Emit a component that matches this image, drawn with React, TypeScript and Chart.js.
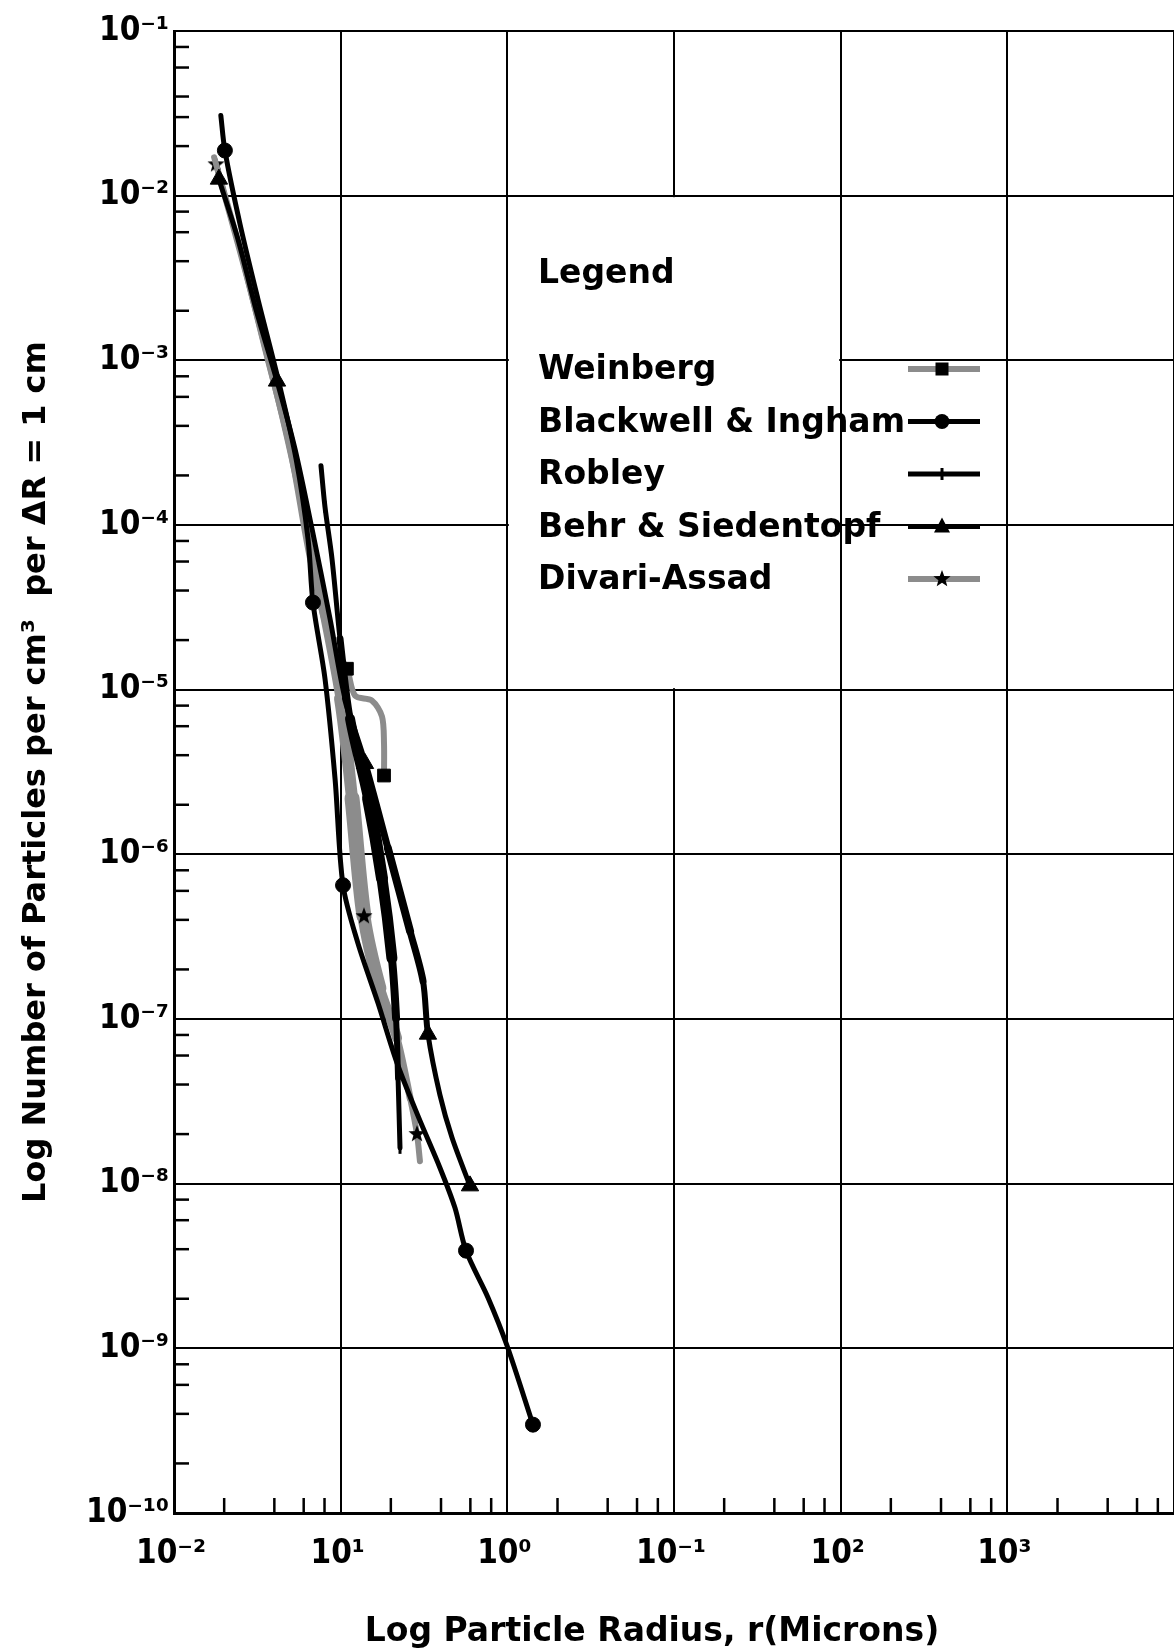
import { useEffect, useRef } from 'react';
import { Chart, registerables } from 'chart.js';

Chart.register(...registerables);

const FONT = '"DejaVu Sans", "Liberation Sans", sans-serif';
const TICK_FONT = '"DejaVu Sans Condensed", "Liberation Sans Narrow", "DejaVu Sans", sans-serif';
const INK = '#000000';
const GREY = '#8c8c8c';

// ---- axes ----
const xTickValues = [1e-2, 1e-1, 1e0, 1e1, 1e2, 1e3, 1e4];
const xTickLabels = ['10⁻²', '10¹', '10⁰', '10⁻¹', '10²', '10³', ''];
const yTickValues = [1e-10, 1e-9, 1e-8, 1e-7, 1e-6, 1e-5, 1e-4, 1e-3, 1e-2, 1e-1];
const yTickLabels = ['10⁻¹⁰', '10⁻⁹', '10⁻⁸', '10⁻⁷', '10⁻⁶', '10⁻⁵', '10⁻⁴', '10⁻³', '10⁻²', '10⁻¹'];
const minorSteps = [2, 4, 6, 8];
const yExtraMinor = [3e-2];

const xTitle = 'Log Particle Radius, r(Microns)';
const yTitle = 'Log Number of Particles per cm³  per ΔR = 1 cm';
const legendTitle = 'Legend';
const seriesNames = ['Weinberg', 'Blackwell & Ingham', 'Robley', 'Behr & Siedentopf', 'Divari-Assad'];

// ---- series (radius in microns, particles per cm^3) ----
const weinbergRadius = [0.0174, 0.0249, 0.0352, 0.0497, 0.0655, 0.0863, 0.109, 0.122, 0.154, 0.177, 0.182, 0.182];
const weinbergCount = [1.71e-2, 4.73e-3, 1.17e-3, 2.9e-4, 6.24e-5, 2.04e-5, 1.34e-5, 9.2e-6, 8.59e-6, 6.87e-6, 4.71e-6, 3.01e-6];
const weinbergMarks = [6, 11];

const blackwellRadius = [0.0191, 0.0202, 0.0249, 0.0319, 0.0421, 0.054, 0.0637, 0.0682, 0.0805, 0.0925, 0.1033, 0.127, 0.1675, 0.218, 0.291, 0.394, 0.485, 0.565, 0.766, 0.995, 1.425];
const blackwellCount = [3.07e-2, 1.88e-2, 6.71e-3, 2.35e-3, 7.71e-4, 2.52e-4, 8.24e-5, 3.38e-5, 1.17e-5, 2.89e-6, 6.49e-7, 2.88e-7, 1.25e-7, 5.4e-8, 2.58e-8, 1.25e-8, 7.13e-9, 3.92e-9, 2.03e-9, 1.04e-9, 3.44e-10];
const blackwellMarks = [1, 7, 10, 17, 20];

const robleyRadius = [0.0762, 0.0805, 0.0887, 0.0991, 0.1138, 0.146, 0.177, 0.203, 0.215, 0.221, 0.227];
const robleyCount = [2.29e-4, 1.29e-4, 6.24e-5, 2.04e-5, 6.68e-6, 2.19e-6, 7.15e-7, 2.34e-7, 1.01e-7, 4.38e-8, 1.65e-8];
const robleyMarks = [1, 4, 10];

const behrRadius = [0.0186, 0.0242, 0.031, 0.0415, 0.0532, 0.0673, 0.0863, 0.1062, 0.14, 0.192, 0.261, 0.312, 0.334, 0.394, 0.466, 0.597];
const behrCount = [1.26e-2, 5.44e-3, 2.05e-3, 7.48e-4, 2.9e-4, 9.48e-5, 2.7e-5, 8.83e-6, 3.56e-6, 1.09e-6, 3.41e-7, 1.7e-7, 8.09e-8, 3.46e-8, 1.9e-8, 9.7e-9];
const behrMarks = [0, 3, 8, 12, 15];

const divariRadius = [0.01786, 0.0286, 0.0464, 0.0702, 0.0991, 0.117, 0.138, 0.172, 0.218, 0.261, 0.287, 0.299];
const divariCount = [1.55e-2, 2.71e-3, 3.83e-4, 5.42e-5, 8.83e-6, 2.19e-6, 4.21e-7, 1.54e-7, 7.66e-8, 3.31e-8, 2.0e-8, 1.37e-8];
const divariMarks = [0, 6, 10];

// stroke-weight profile per segment (style only: thick smeared middle of the band)
const robleyStroke = [5, 5, 5, 7, 10, 12, 11, 8, 6, 5];
const behrStroke = [5, 5, 5, 5, 5, 5, 5, 6, 7, 8, 7, 6, 5, 5, 5];
const divariStroke = [6, 6, 6, 9, 12, 15, 13, 10, 7, 6, 6];

function makeStar(size: number): HTMLCanvasElement {
  const c = document.createElement('canvas');
  c.width = size;
  c.height = size;
  const g = c.getContext('2d')!;
  g.fillStyle = INK;
  g.beginPath();
  const cx = size / 2;
  const cy = size / 2;
  const R = size / 2 - 1;
  const r = R * 0.42;
  for (let k = 0; k < 10; k++) {
    const a = -Math.PI / 2 + (k * Math.PI) / 5;
    const rr = k % 2 === 0 ? R : r;
    const px = cx + Math.cos(a) * rr;
    const py = cy + Math.sin(a) * rr;
    if (k === 0) g.moveTo(px, py);
    else g.lineTo(px, py);
  }
  g.closePath();
  g.fill();
  return c;
}

function drawMarker(ctx: CanvasRenderingContext2D, kind: string, x: number, y: number, star: HTMLCanvasElement) {
  ctx.save();
  ctx.fillStyle = INK;
  ctx.strokeStyle = INK;
  if (kind === 'rect') {
    ctx.fillRect(x - 6.5, y - 6.5, 13, 13);
  } else if (kind === 'circle') {
    ctx.beginPath();
    ctx.arc(x, y, 7.5, 0, Math.PI * 2);
    ctx.fill();
  } else if (kind === 'line') {
    ctx.lineWidth = 3;
    ctx.beginPath();
    ctx.moveTo(x, y - 6);
    ctx.lineTo(x, y + 6);
    ctx.stroke();
  } else if (kind === 'triangle') {
    ctx.beginPath();
    ctx.moveTo(x, y - 9);
    ctx.lineTo(x + 8, y + 6);
    ctx.lineTo(x - 8, y + 6);
    ctx.closePath();
    ctx.fill();
  } else if (kind === 'star') {
    ctx.drawImage(star, x - star.width / 2, y - star.height / 2);
  }
  ctx.restore();
}

export default function App() {
  const ref = useRef<HTMLCanvasElement>(null);

  useEffect(() => {
    document.body.style.margin = '0';
    const canvas = ref.current!;
    const star = makeStar(20);

    const markerKinds = ['rect', 'circle', 'line', 'triangle', 'star'];

    const mk = (
      label: string,
      rs: number[],
      ns: number[],
      marks: number[],
      color: string,
      width: number,
      style: any,
      radius: number,
      order: number,
      stroke: number[] | null = null,
      extra: any = {}
    ) => ({
      label,
      data: rs.map((r, i) => ({ x: r, y: ns[i] })),
      showLine: true,
      borderColor: color,
      borderWidth: width,
      borderCapStyle: 'round',
      borderJoinStyle: 'round',
      tension: 0.3,
      segment: stroke
        ? {
            borderWidth: (c: any) => stroke[c.p0DataIndex] ?? width,
            borderCapStyle: 'round',
          }
        : undefined,
      pointStyle: style,
      pointRadius: (c: any) => (marks.includes(c.dataIndex) ? radius : 0),
      pointHoverRadius: 0,
      pointBackgroundColor: INK,
      pointBorderColor: INK,
      pointBorderWidth: 1,
      order,
      ...extra,
    });

    const datasets = [
      mk(seriesNames[0], weinbergRadius, weinbergCount, weinbergMarks, GREY, 6, 'rect', 9, 1),
      mk(seriesNames[1], blackwellRadius, blackwellCount, blackwellMarks, INK, 5, 'circle', 7.5, 0),
      mk(seriesNames[2], robleyRadius, robleyCount, robleyMarks, INK, 5, 'line', 6, 0, robleyStroke, {
        pointRotation: 90,
        pointBorderWidth: 3,
      }),
      mk(seriesNames[3], behrRadius, behrCount, behrMarks, INK, 5, 'triangle', 10, 0, behrStroke),
      mk(seriesNames[4], divariRadius, divariCount, divariMarks, GREY, 6, star, 8, 1, divariStroke),
    ];

    const decorations = {
      id: 'decorations',
      beforeDatasetsDraw(chart: any) {
        const { ctx, chartArea, scales } = chart;
        const xs = scales.x;
        const ys = scales.y;
        ctx.save();
        // legend panel (covers grid cell block)
        const lx0 = xs.getPixelForValue(1e0) + 1.5;
        const lx1 = xs.getPixelForValue(1e2) - 1.5;
        const ly0 = ys.getPixelForValue(1e-2) + 1.5;
        const ly1 = ys.getPixelForValue(1e-5) - 1.5;
        ctx.fillStyle = '#ffffff';
        ctx.fillRect(lx0, ly0, lx1 - lx0, ly1 - ly0);
        // minor ticks
        ctx.strokeStyle = INK;
        ctx.lineWidth = 2.5;
        const yMinor: number[] = [...yExtraMinor];
        for (let e = -10; e < -1; e++) for (const m of minorSteps) yMinor.push(m * Math.pow(10, e));
        for (const v of yMinor) {
          const py = ys.getPixelForValue(v);
          ctx.beginPath();
          ctx.moveTo(chartArea.left, py);
          ctx.lineTo(chartArea.left + 15, py);
          ctx.stroke();
        }
        for (let e = -2; e < 4; e++) {
          for (const m of minorSteps) {
            const px = xs.getPixelForValue(m * Math.pow(10, e));
            ctx.beginPath();
            ctx.moveTo(px, chartArea.bottom);
            ctx.lineTo(px, chartArea.bottom - 15);
            ctx.stroke();
          }
        }
        ctx.restore();
      },
      afterDraw(chart: any) {
        const { ctx } = chart;
        ctx.save();
        ctx.font = `bold 33px ${FONT}`;
        ctx.fillStyle = INK;
        ctx.textAlign = 'left';
        ctx.textBaseline = 'alphabetic';
        ctx.fillText(legendTitle, 538, 283);
        seriesNames.forEach((name, i) => {
          const base = 379 + i * 52.5;
          ctx.fillText(name, 538, base);
          const ds: any = chart.data.datasets[i];
          const sy = base - 10;
          ctx.strokeStyle = ds.borderColor;
          ctx.lineWidth = ds.borderWidth;
          ctx.lineCap = 'butt';
          ctx.beginPath();
          ctx.moveTo(908, sy);
          ctx.lineTo(980, sy);
          ctx.stroke();
          drawMarker(ctx, markerKinds[i], 942, sy, star);
        });
        // x-axis title
        ctx.textAlign = 'center';
        ctx.fillText(xTitle, 652, 1641);
        ctx.restore();
      },
    };

    const tickFont = { family: TICK_FONT, size: 33, weight: 'bold' as const };

    const chart = new Chart(canvas, {
      type: 'scatter',
      data: { datasets: datasets as any },
      options: {
        animation: false,
        responsive: false,
        maintainAspectRatio: false,
        layout: { autoPadding: false, padding: { top: 31, left: 0, right: 0, bottom: 0 } },
        plugins: { legend: { display: false }, tooltip: { enabled: false } },
        events: [],
        scales: {
          x: {
            type: 'logarithmic',
            position: 'bottom',
            min: 1e-2,
            max: 1e4,
            afterBuildTicks: (s: any) => {
              s.ticks = xTickValues.map((v) => ({ value: v }));
            },
            afterFit: (s: any) => {
              s.height = 136;
              s.paddingLeft = 0;
              s.paddingRight = 0;
            },
            grid: { color: INK, lineWidth: 2, drawTicks: false },
            border: { color: INK, width: 3 },
            ticks: {
              callback: (_v: any, i: number) => xTickLabels[i] ?? '',
              font: tickFont,
              color: INK,
              padding: 22,
              autoSkip: false,
              maxRotation: 0,
              minRotation: 0,
              labelOffset: -3,
            },
            title: { display: false },
          },
          y: {
            type: 'logarithmic',
            position: 'left',
            min: 1e-10,
            max: 1e-1,
            afterBuildTicks: (s: any) => {
              s.ticks = yTickValues.map((v) => ({ value: v }));
            },
            afterFit: (s: any) => {
              s.width = 174;
              s.paddingTop = 0;
              s.paddingBottom = 0;
            },
            grid: { color: INK, lineWidth: 2, drawTicks: false },
            border: { color: INK, width: 3 },
            ticks: {
              callback: (_v: any, i: number) => yTickLabels[i] ?? '',
              font: tickFont,
              color: INK,
              padding: 5,
              autoSkip: false,
            },
            title: {
              display: true,
              text: yTitle,
              color: INK,
              font: { family: FONT, size: 32, weight: 'bold' },
              padding: { top: 17, bottom: 0 },
            },
          },
        },
      } as any,
      plugins: [decorations],
    });

    return () => chart.destroy();
  }, []);

  return <canvas ref={ref} width={1174} height={1649} style={{ display: 'block', width: 1174, height: 1649 }} />;
}
